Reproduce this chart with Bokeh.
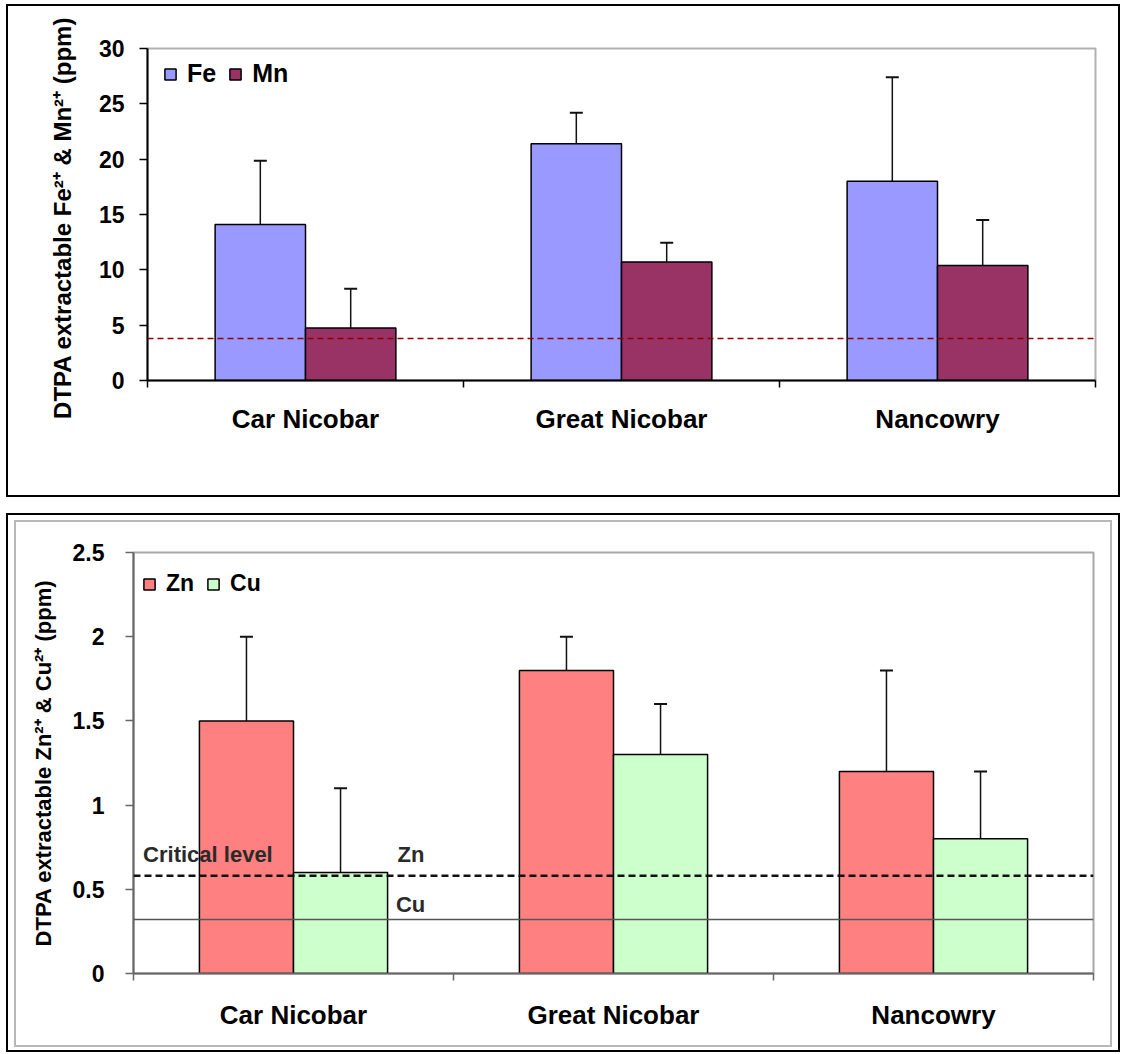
from bokeh.plotting import figure
from bokeh.models import Range1d, FixedTicker, Span, Whisker, ColumnDataSource, Label, TeeHead
from bokeh.layouts import column
from bokeh.embed import file_html
from bokeh.resources import INLINE

# ---------------- data ----------------
categories = ["Car Nicobar", "Great Nicobar", "Nancowry"]

fe_mean = [14.1, 21.4, 18.0]
fe_err = [5.75, 2.8, 9.4]
mn_mean = [4.75, 10.7, 10.4]
mn_err = [3.55, 1.75, 4.1]
fe_mn_ticks = [0, 5, 10, 15, 20, 25, 30]
fe_mn_critical = 3.8

zn_mean = [1.5, 1.8, 1.2]
zn_err = [0.5, 0.2, 0.6]
cu_mean = [0.6, 1.3, 0.8]
cu_err = [0.5, 0.3, 0.4]
zn_cu_ticks = [0, 0.5, 1, 1.5, 2, 2.5]
zn_cu_tick_labels = ["0", "0.5", "1", "1.5", "2", "2.5"]
zn_critical = 0.58
cu_critical = 0.32

FONT = "Liberation Sans"


def base_fig(width, height, ymax, ticks, tick_labels, lb, rb, tb, bb, axis_color, outline_color):
    n = len(categories)
    p = figure(width=width, height=height, x_range=Range1d(0, n), y_range=Range1d(0, ymax),
               output_backend="svg", toolbar_location=None,
               min_border_left=lb, min_border_right=rb, min_border_top=tb, min_border_bottom=bb)
    p.grid.visible = False
    p.outline_line_color = outline_color
    p.outline_line_width = 2
    p.background_fill_color = "white"
    p.border_fill_color = "white"

    xa = p.xaxis[0]
    xa.ticker = FixedTicker(ticks=[i + 0.5 for i in range(n)], minor_ticks=list(range(n + 1)))
    xa.major_label_overrides = {i + 0.5: c for i, c in enumerate(categories)}
    xa.major_tick_line_color = None
    xa.minor_tick_line_color = axis_color
    xa.minor_tick_line_width = 1.5
    xa.minor_tick_in = 0
    xa.minor_tick_out = 7
    xa.axis_line_color = axis_color
    xa.axis_line_width = 2
    xa.major_label_text_font = FONT
    xa.major_label_text_font_style = "bold"
    xa.major_label_text_color = "black"

    ya = p.yaxis[0]
    ya.ticker = FixedTicker(ticks=ticks, minor_ticks=[])
    ya.major_label_overrides = {t: l for t, l in zip(ticks, tick_labels)}
    ya.minor_tick_line_color = None
    ya.major_tick_in = 0
    ya.major_tick_out = 8
    ya.major_tick_line_color = axis_color
    ya.major_tick_line_width = 1.5
    ya.axis_line_color = axis_color
    ya.axis_line_width = 2
    ya.major_label_text_font = FONT
    ya.major_label_text_font_style = "bold"
    ya.major_label_text_color = "black"
    ya.axis_label_text_font = FONT
    ya.axis_label_text_font_style = "bold"
    ya.axis_label_text_color = "black"
    return p


def add_pair(p, a_mean, a_err, b_mean, b_err, width, ca, cb, la, lb):
    n = len(categories)
    xa = [i + 0.5 - width / 2 for i in range(n)]
    xb = [i + 0.5 + width / 2 for i in range(n)]
    p.vbar(x=xa, top=a_mean, bottom=0, width=width, fill_color=ca, line_color="black",
           line_width=1.5, legend_label=la)
    p.vbar(x=xb, top=b_mean, bottom=0, width=width, fill_color=cb, line_color="black",
           line_width=1.5, legend_label=lb)
    for xs, m, e in ((xa, a_mean, a_err), (xb, b_mean, b_err)):
        src = ColumnDataSource(dict(x=xs, lower=m, upper=[mm + ee for mm, ee in zip(m, e)]))
        w = Whisker(base="x", lower="lower", upper="upper", source=src, dimension="height",
                    line_color="#111111", line_width=1.5,
                    upper_head=TeeHead(size=13, line_color="#111111", line_width=2),
                    lower_head=None)
        p.add_layout(w)


def style_legend(p, size, glyph):
    lg = p.legend[0]
    lg.orientation = "horizontal"
    lg.border_line_color = None
    lg.background_fill_alpha = 0
    lg.label_text_font = FONT
    lg.label_text_font_style = "bold"
    lg.label_text_font_size = size
    lg.label_text_color = "black"
    lg.glyph_width = glyph
    lg.glyph_height = glyph
    lg.label_standoff = 10
    lg.spacing = 12
    lg.padding = 5
    lg.margin = 0
    return lg


# ---------------- top panel ----------------
p1 = base_fig(1110, 489, 30, fe_mn_ticks, [str(t) for t in fe_mn_ticks],
              139, 23, 42, 115, "black", "#B0B0B0")
add_pair(p1, fe_mean, fe_err, mn_mean, mn_err, 0.286, "#9999FF", "#993366", "Fe", "Mn")
p1.add_layout(Span(location=fe_mn_critical, dimension="width", line_color="#8B0000",
                   line_width=1.5, line_dash="6 4"))
p1.xaxis.major_label_text_font_size = "26px"
p1.xaxis.major_label_standoff = 16
p1.yaxis.major_label_text_font_size = "23px"
p1.yaxis.major_label_standoff = 15
p1.yaxis.axis_label = "DTPA extractable Fe\u00b2\u207a & Mn\u00b2\u207a  (ppm)"
p1.yaxis.axis_label_text_font_size = "24px"
p1.yaxis.axis_label_standoff = 20
lg1 = style_legend(p1, "25px", 14)
lg1.location = (16, 292)

# ---------------- bottom panel ----------------
p2 = base_fig(1094, 523, 2.5, zn_cu_ticks, zn_cu_tick_labels,
              117, 17, 30, 72, "#666666", "#A8A8A8")
add_pair(p2, zn_mean, zn_err, cu_mean, cu_err, 0.294, "#FF8080", "#CCFFCC", "Zn", "Cu")
p2.add_layout(Span(location=zn_critical, dimension="width", line_color="#111111",
                   line_width=2.5, line_dash="7 4"))
p2.add_layout(Span(location=cu_critical, dimension="width", line_color="#555555",
                   line_width=1.5))
for txt, x, y in (("Critical level", 0.03, 0.63), ("Zn", 0.825, 0.63), ("Cu", 0.82, 0.335)):
    p2.add_layout(Label(x=x, y=y, text=txt, text_font=FONT, text_font_style="bold",
                        text_font_size="22px", text_color="#2a2a2a"))
p2.xaxis.major_label_text_font_size = "26px"
p2.xaxis.major_label_standoff = 19
p2.yaxis.major_label_text_font_size = "23px"
p2.yaxis.major_label_standoff = 21
p2.yaxis.axis_label = "DTPA extractable Zn\u00b2\u207a & Cu\u00b2\u207a (ppm)"
p2.yaxis.axis_label_text_font_size = "22px"
p2.yaxis.axis_label_standoff = 14
lg2 = style_legend(p2, "23px", 14)
lg2.location = (9, 376)

w1 = column(p1, styles={"border": "2px solid black"})
inner2 = column(p2, styles={"border": "2px solid #B8B8B8"})
w2 = column(inner2, styles={"border": "2px solid black", "padding": "5px 6px 3px 6px"})

layout = column(w1, w2, spacing=16, styles={"padding": "4px 0px 0px 6px"})

with open("out.html", "w") as f:
    f.write(file_html(layout, INLINE))
